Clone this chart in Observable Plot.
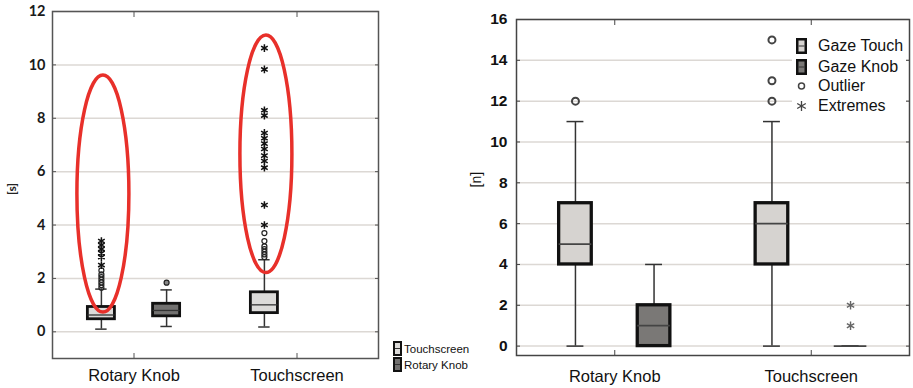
<!DOCTYPE html>
<html><head><meta charset="utf-8">
<script src="https://cdn.jsdelivr.net/npm/d3@7"></script>
<script src="https://cdn.jsdelivr.net/npm/@observablehq/plot@0.6"></script>
<style>
body{margin:0;background:#fff;width:913px;height:388px;position:relative;overflow:hidden;font-family:"Liberation Sans",Arial,sans-serif;}
#left{position:absolute;left:0;top:0;}
#right{position:absolute;left:460px;top:0;}
.row{position:absolute;display:flex;align-items:center;white-space:nowrap;color:#111;}
.row svg{display:block;}
#legR{position:absolute;left:792px;top:35px;width:114px;height:80px;background:#fff;}
</style></head><body>
<div id="left"></div><div id="right"></div>
<div id="legL"></div>
<div id="legR"></div>
<script>
// ---------- shared categories ----------
const categories = ["Rotary Knob", "Touchscreen"];

// ---------- left panel: time [s] ----------
const timeSeries = ["Touchscreen", "Rotary Knob"];
const timeBoxCategory = ["Rotary Knob", "Rotary Knob", "Touchscreen"];
const timeBoxSeries = ["Touchscreen", "Rotary Knob", "Touchscreen"];
const timeMin = [0.1, 0.2, 0.18];
const timeQ1 = [0.47, 0.58, 0.7];
const timeMedian = [0.63, 0.8, 1.01];
const timeQ3 = [0.93, 1.05, 1.48];
const timeMax = [1.6, 1.57, 2.7];
const timeOutliers = [
  [1.65, 1.75, 1.85, 1.95, 2.05, 2.15, 2.3],
  [1.84],
  [2.8, 2.9, 3.0, 3.1, 3.2, 3.4, 3.7]
];
const timeExtremes = [
  [2.5, 2.8, 2.95, 3.1, 3.25, 3.4],
  [],
  [4.0, 4.75, 6.15, 6.4, 6.6, 6.85, 7.05, 7.25, 7.45, 8.1, 8.3, 9.83, 10.63]
];
const timeTicks = [0, 2, 4, 6, 8, 10, 12];
const timeLabel = "[s]";
const highlightCategory = ["Rotary Knob", "Touchscreen"];
const highlightSeries = ["Touchscreen", "Touchscreen"];
const highlightTop = [9.6, 11.1];
const highlightBottom = [0.72, 2.2];

// ---------- right panel: count [n] ----------
const gazeSeries = ["Gaze Touch", "Gaze Knob"];
const gazeBoxCategory = ["Rotary Knob", "Rotary Knob", "Touchscreen", "Touchscreen"];
const gazeBoxSeries = ["Gaze Touch", "Gaze Knob", "Gaze Touch", "Gaze Knob"];
const gazeMin = [0, 0, 0, 0];
const gazeQ1 = [4, 0, 4, 0];
const gazeMedian = [5, 1, 6, 0];
const gazeQ3 = [7, 2, 7, 0];
const gazeMax = [11, 4, 11, 0];
const gazeOutliers = [[12], [], [12, 13, 15], []];
const gazeExtremes = [[], [], [], [1, 2]];
const gazeTicks = [0, 2, 4, 6, 8, 10, 12, 14, 16];
const gazeLabel = "[n]";

// ---------- helpers ----------
function xPos(cat, ser, seriesList) {
  return categories.indexOf(cat) + (seriesList.indexOf(ser) === 0 ? -0.2 : 0.2);
}
function buildBoxes(cats, sers, mins, q1s, meds, q3s, maxs, seriesList) {
  return cats.map((c, i) => ({x: xPos(c, sers[i], seriesList), series: sers[i],
    min: mins[i], q1: q1s[i], median: meds[i], q3: q3s[i], max: maxs[i]}));
}
function buildPoints(cats, sers, lists, seriesList) {
  return cats.flatMap((c, i) => lists[i].map(v => ({x: xPos(c, sers[i], seriesList), series: sers[i], y: v})));
}

const HB = 0.083; // half box width (x units)

// ---------- left plot ----------
const tBoxes = buildBoxes(timeBoxCategory, timeBoxSeries, timeMin, timeQ1, timeMedian, timeQ3, timeMax, timeSeries);
const tOut = buildPoints(timeBoxCategory, timeBoxSeries, timeOutliers, timeSeries);
const tExt = buildPoints(timeBoxCategory, timeBoxSeries, timeExtremes, timeSeries);
const tFill = s => s === timeSeries[0] ? "#dcdbd9" : "#727170";

function highlightMark(index, scales) {
  const g = d3.create("svg:g");
  highlightTop.forEach((top, i) => {
    const cx = scales.x(xPos(highlightCategory[i], highlightSeries[i], timeSeries));
    const y1 = scales.y(top), y2 = scales.y(highlightBottom[i]);
    g.append("ellipse")
      .attr("cx", cx + 2).attr("cy", (y1 + y2) / 2)
      .attr("rx", 26).attr("ry", Math.abs(y2 - y1) / 2)
      .attr("fill", "none").attr("stroke", "#e8302a").attr("stroke-width", 3.5);
  });
  return g.node();
}

const leftPlot = Plot.plot({
  width: 390, height: 388,
  marginLeft: 52, marginRight: 12, marginTop: 11, marginBottom: 30,
  x: {domain: [-0.5, 1.5]},
  y: {domain: [-1, 12]},
  style: {background: "transparent", overflow: "visible", fontFamily: "Lato, sans-serif"},
  marks: [
    Plot.gridY(timeTicks, {stroke: "#dcd8d4", strokeOpacity: 1, strokeWidth: 1.5}),
    Plot.frame({stroke: "#555", strokeWidth: 1.5}),
    Plot.text(timeTicks, {y: d => d, frameAnchor: "left", textAnchor: "end", dx: -7, fontSize: 14.5, fontWeight: 700, fontFamily: "Lato, 'Open Sans', sans-serif", fill: "#1a1a1a"}),
    Plot.axisY({ticks: timeTicks, tickSize: -4, tickFormat: () => "", label: null, stroke: "#555"}),
    Plot.axisY({anchor: "right", ticks: timeTicks, tickSize: -4, tickFormat: () => "", label: null, stroke: "#555"}),
    Plot.axisX({ticks: [0, 1], tickSize: 0, tickPadding: 11, tickFormat: i => categories[i], fontSize: 16.5, fontFamily: "Liberation Sans, Arial, sans-serif", fill: "#111", label: null}),
    Plot.axisX({ticks: [0, 1], tickSize: -5, tickFormat: () => "", label: null, stroke: "#555"}),
    Plot.axisX({anchor: "top", ticks: [0, 1], tickSize: -5, tickFormat: () => "", label: null, stroke: "#555"}),
    Plot.text([timeLabel], {frameAnchor: "left", dx: -40, dy: 10, rotate: -90, fontSize: 12, fontWeight: 700, fill: "#222"}),
    Plot.ruleX(tBoxes, {x: "x", y1: "min", y2: "max", stroke: "#333", strokeWidth: 1.5}),
    Plot.ruleY(tBoxes, {y: "min", x1: d => d.x - 0.035, x2: d => d.x + 0.035, stroke: "#333", strokeWidth: 1.5}),
    Plot.ruleY(tBoxes, {y: "max", x1: d => d.x - 0.035, x2: d => d.x + 0.035, stroke: "#333", strokeWidth: 1.5}),
    Plot.rect(tBoxes, {x1: d => d.x - HB, x2: d => d.x + HB, y1: "q1", y2: "q3", fill: d => tFill(d.series), stroke: "#111", strokeWidth: 2.8}),
    Plot.ruleY(tBoxes, {y: "median", x1: d => d.x - HB, x2: d => d.x + HB, stroke: "#333", strokeWidth: 1.3}),
    Plot.dot(tOut, {x: "x", y: "y", r: 2.5, stroke: "#222", strokeWidth: 1.2,
      fill: d => d.series === timeSeries[1] ? "#888" : "none"}),
    Plot.dot(tExt, {x: "x", y: "y", symbol: "asterisk", r: 3.6, stroke: "#111", strokeWidth: 1.5}),
    highlightMark
  ]
});
document.getElementById("left").append(leftPlot);

// ---------- right plot ----------
const gBoxes = buildBoxes(gazeBoxCategory, gazeBoxSeries, gazeMin, gazeQ1, gazeMedian, gazeQ3, gazeMax, gazeSeries);
const gOut = buildPoints(gazeBoxCategory, gazeBoxSeries, gazeOutliers, gazeSeries);
const gExt = buildPoints(gazeBoxCategory, gazeBoxSeries, gazeExtremes, gazeSeries);
const gFill = s => s === gazeSeries[0] ? "#d6d3d0" : "#7a7876";

const rightPlot = Plot.plot({
  width: 453, height: 388,
  marginLeft: 56, marginRight: 4, marginTop: 19, marginBottom: 33,
  x: {domain: [-0.5, 1.5]},
  y: {domain: [-0.46, 16]},
  style: {background: "transparent", overflow: "visible", fontFamily: "Liberation Sans, Arial, sans-serif"},
  marks: [
    Plot.gridY(gazeTicks, {stroke: "#dcd8d4", strokeOpacity: 1, strokeWidth: 1.5}),
    Plot.frame({stroke: "#444", strokeWidth: 1.5}),
    Plot.text(gazeTicks, {y: d => d, frameAnchor: "left", textAnchor: "end", dx: -9, fontSize: 15.5, fontWeight: 700, fill: "#111"}),
    Plot.axisY({ticks: gazeTicks, tickSize: -4, tickFormat: () => "", label: null, stroke: "#444"}),
    Plot.axisY({anchor: "right", ticks: gazeTicks, tickSize: -4, tickFormat: () => "", label: null, stroke: "#444"}),
    Plot.axisX({ticks: [0, 1], tickSize: 0, tickPadding: 15, tickFormat: i => categories[i], fontSize: 16.5, fill: "#111", label: null}),
    Plot.axisX({ticks: [0, 1], tickSize: -5, tickFormat: () => "", label: null, stroke: "#444"}),
    Plot.axisX({anchor: "top", ticks: [0, 1], tickSize: -5, tickFormat: () => "", label: null, stroke: "#444"}),
    Plot.text([gazeLabel], {frameAnchor: "left", dx: -40, rotate: -90, fontSize: 14, fill: "#111"}),
    Plot.ruleX(gBoxes, {x: "x", y1: "min", y2: "max", stroke: "#333", strokeWidth: 1.5}),
    Plot.ruleY(gBoxes, {y: "min", x1: d => d.x - 0.043, x2: d => d.x + 0.043, stroke: "#333", strokeWidth: 1.5}),
    Plot.ruleY(gBoxes, {y: "max", x1: d => d.x - 0.043, x2: d => d.x + 0.043, stroke: "#333", strokeWidth: 1.5}),
    Plot.rect(gBoxes, {x1: d => d.x - HB, x2: d => d.x + HB, y1: "q1", y2: "q3", fill: d => gFill(d.series), stroke: "#111", strokeWidth: 3.3}),
    Plot.ruleY(gBoxes, {y: "median", x1: d => d.x - HB, x2: d => d.x + HB, stroke: "#444", strokeWidth: 1.8}),
    Plot.dot(gOut, {x: "x", y: "y", r: 3.5, stroke: "#444", strokeWidth: 2, fill: "none"}),
    Plot.dot(gExt, {x: "x", y: "y", symbol: "asterisk", r: 4, stroke: "#666", strokeWidth: 1.4})
  ]
});
document.getElementById("right").append(rightPlot);

// ---------- legends (HTML) ----------
function boxSwatch(w, h, fill, sw) {
  return `<svg width="${w}" height="${h}"><rect x="${sw/2}" y="${sw/2}" width="${w - sw}" height="${h - sw}" fill="${fill}" stroke="#111" stroke-width="${sw}"/><line x1="${sw}" x2="${w - sw}" y1="${h/2}" y2="${h/2}" stroke="#333" stroke-width="1"/></svg>`;
}
const legL = document.getElementById("legL");
timeSeries.forEach((s, i) => {
  const r = document.createElement("div");
  r.className = "row";
  r.style.left = "393px"; r.style.top = (341 + i * 16) + "px"; r.style.fontSize = "11.5px";
  r.innerHTML = boxSwatch(9, 15, tFill(s), 2) + `<span style="margin-left:2px">${s}</span>`;
  legL.append(r);
});
const legR = document.getElementById("legR");
const rItems = [
  {sym: boxSwatch(11, 16, gFill(gazeSeries[0]), 2.5), text: gazeSeries[0]},
  {sym: boxSwatch(11, 16, gFill(gazeSeries[1]), 2.5), text: gazeSeries[1]},
  {sym: `<svg width="11" height="16"><circle cx="5.5" cy="8" r="3" fill="none" stroke="#444" stroke-width="1.5"/></svg>`, text: "Outlier"},
  {sym: `<svg width="11" height="16"><path d="M5.5,3V13M1.2,5.5L9.8,10.5M1.2,10.5L9.8,5.5" stroke="#444" stroke-width="1.3"/></svg>`, text: "Extremes"}
];
const rTops = [2, 23, 42, 62];
rItems.forEach((it, i) => {
  const r = document.createElement("div");
  r.className = "row";
  r.style.left = "4px"; r.style.top = rTops[i] + "px"; r.style.fontSize = "16px";
  r.innerHTML = it.sym + `<span style="margin-left:11px">${it.text}</span>`;
  legR.append(r);
});
</script>
</body></html>
